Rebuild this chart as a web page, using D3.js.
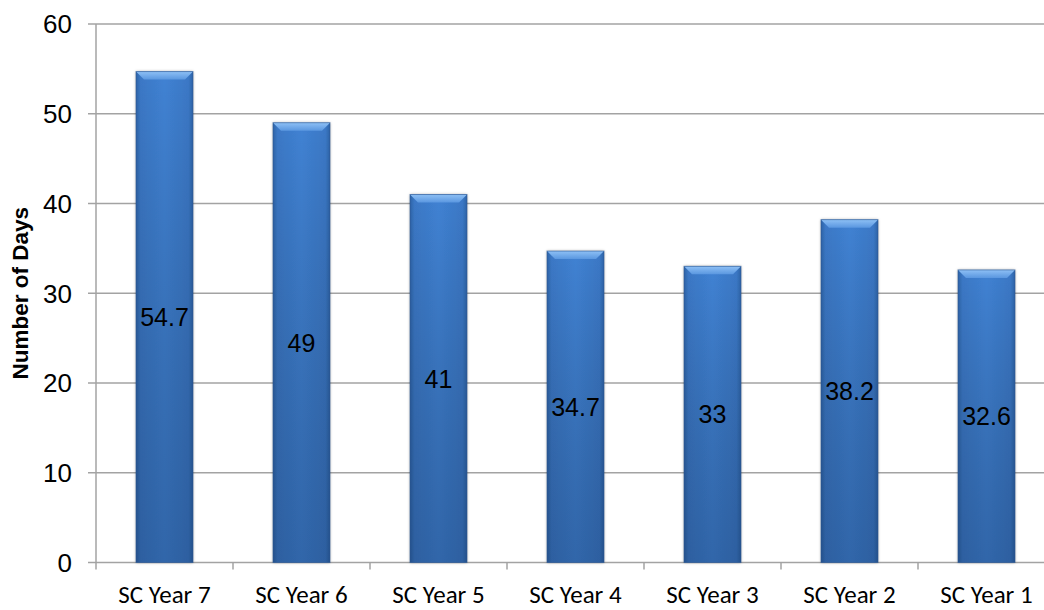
<!DOCTYPE html>
<html>
<head>
<meta charset="utf-8">
<script src="https://cdn.jsdelivr.net/npm/d3@7"></script>
<style>
  body { margin: 0; background: #fff; }
  svg { display: block; }
</style>
</head>
<body>
<script>
// chart data
var categories = ["SC Year 7", "SC Year 6", "SC Year 5", "SC Year 4", "SC Year 3", "SC Year 2", "SC Year 1"];
var days = [54.7, 49, 41, 34.7, 33, 38.2, 32.6];
var dayLabels = ["54.7", "49", "41", "34.7", "33", "38.2", "32.6"];
var yTicks = [0, 10, 20, 30, 40, 50, 60];

var W = 1044, H = 610;
var plotLeft = 96, plotRight = 1055, plotTop = 24, plotBottom = 562.5;

var svg = d3.select("body").append("svg")
    .attr("width", W).attr("height", H);

var x = d3.scaleBand().domain(categories).range([plotLeft, plotRight]).paddingInner(0.584).paddingOuter(0.292);
var y = d3.scaleLinear().domain([0, 60]).range([plotBottom, plotTop]);

// gradients for the bars
var defs = svg.append("defs");
var hg = defs.append("linearGradient").attr("id", "barH").attr("x1", 0).attr("x2", 1).attr("y1", 0).attr("y2", 0);
hg.append("stop").attr("offset", "0%").attr("stop-color", "#2f64a8");
hg.append("stop").attr("offset", "8%").attr("stop-color", "#3b78c6");
hg.append("stop").attr("offset", "50%").attr("stop-color", "#4082d3");
hg.append("stop").attr("offset", "92%").attr("stop-color", "#3b78c6");
hg.append("stop").attr("offset", "100%").attr("stop-color", "#2f64a8");
var vg = defs.append("linearGradient").attr("id", "barV").attr("x1", 0).attr("x2", 0).attr("y1", 0).attr("y2", 1);
vg.append("stop").attr("offset", "0%").attr("stop-color", "#000").attr("stop-opacity", 0);
vg.append("stop").attr("offset", "100%").attr("stop-color", "#0a1f40").attr("stop-opacity", 0.28);
var tg = defs.append("linearGradient").attr("id", "barTop").attr("x1", 0).attr("x2", 0).attr("y1", 0).attr("y2", 1);
tg.append("stop").attr("offset", "0%").attr("stop-color", "#8ec0f5");
tg.append("stop").attr("offset", "100%").attr("stop-color", "#5a97e0");
var sh = defs.append("filter").attr("id", "shadow").attr("x", "-20%").attr("y", "-5%").attr("width", "140%").attr("height", "110%");
sh.append("feDropShadow").attr("dx", 0).attr("dy", 0).attr("stdDeviation", 1.5)
    .attr("flood-color", "#000").attr("flood-opacity", 0.35);

// gridlines
svg.append("g").selectAll("line").data(yTicks).enter().append("line")
    .attr("x1", 88).attr("x2", W)
    .attr("y1", function(d) { return y(d); })
    .attr("y2", function(d) { return y(d); })
    .attr("stroke", "#a3a3a3").attr("stroke-width", 1.5);

// y axis line
svg.append("line")
    .attr("x1", plotLeft).attr("x2", plotLeft).attr("y1", plotTop).attr("y2", plotBottom)
    .attr("stroke", "#a3a3a3").attr("stroke-width", 1.5);

// x tick marks at category boundaries
var step = x.step();
svg.append("g").selectAll("line").data(d3.range(categories.length + 1)).enter().append("line")
    .attr("x1", function(i) { return plotLeft + i * step; })
    .attr("x2", function(i) { return plotLeft + i * step; })
    .attr("y1", plotBottom).attr("y2", plotBottom + 7)
    .attr("stroke", "#a3a3a3").attr("stroke-width", 1.5);

// y tick labels
svg.append("g").selectAll("text").data(yTicks).enter().append("text")
    .attr("x", 72)
    .attr("y", function(d) { return y(d); })
    .attr("dy", "0.36em")
    .attr("text-anchor", "end")
    .style("font-family", "Liberation Sans, Arial, sans-serif")
    .style("font-size", "26px")
    .attr("fill", "#000")
    .text(function(d) { return d; });

// y axis title
svg.append("text")
    .attr("transform", "translate(28," + ((plotTop + plotBottom) / 2) + ") rotate(-90)")
    .attr("text-anchor", "middle")
    .style("font-family", "Liberation Sans, Arial, sans-serif")
    .style("font-size", "22.5px")
    .style("font-weight", "bold")
    .text("Number of Days");

// x labels
svg.append("g").selectAll("text").data(categories).enter().append("text")
    .attr("x", function(d) { return x(d) + x.bandwidth() / 2; })
    .attr("y", 603)
    .attr("text-anchor", "middle")
    .style("font-family", "Carlito, Lato, sans-serif")
    .style("font-size", "25px")
    .attr("fill", "#000")
    .text(function(d) { return d; });

// bars
var bars = svg.append("g").selectAll("g").data(days).enter().append("g");
var bw = x.bandwidth();

bars.append("rect")
    .attr("x", function(d, i) { return x(categories[i]); })
    .attr("y", function(d) { return y(d); })
    .attr("width", bw)
    .attr("height", function(d) { return plotBottom - y(d); })
    .attr("fill", "url(#barH)")
    .attr("filter", "url(#shadow)");

bars.append("rect")
    .attr("x", function(d, i) { return x(categories[i]); })
    .attr("y", function(d) { return y(d); })
    .attr("width", bw)
    .attr("height", function(d) { return plotBottom - y(d); })
    .attr("fill", "url(#barV)");

// top bevel
bars.append("path")
    .attr("d", function(d, i) {
      var x0 = x(categories[i]), x1 = x0 + bw, y0 = y(d), b = 8;
      return "M" + x0 + "," + y0 + "L" + x1 + "," + y0 + "L" + (x1 - b) + "," + (y0 + b) +
             "L" + (x0 + b) + "," + (y0 + b) + "Z";
    })
    .attr("fill", "url(#barTop)");

// bar edge
bars.append("rect")
    .attr("x", function(d, i) { return x(categories[i]); })
    .attr("y", function(d) { return y(d); })
    .attr("width", bw)
    .attr("height", function(d) { return plotBottom - y(d); })
    .attr("fill", "none")
    .attr("stroke", "#2a5792").attr("stroke-width", 1).attr("stroke-opacity", 0.6);

// value labels in the middle of each bar
bars.append("text")
    .attr("x", function(d, i) { return x(categories[i]) + bw / 2; })
    .attr("y", function(d) { return (y(d) + plotBottom) / 2; })
    .attr("dy", "0.36em")
    .attr("text-anchor", "middle")
    .style("font-family", "Liberation Sans, Arial, sans-serif")
    .style("font-size", "25px")
    .attr("fill", "#000")
    .text(function(d, i) { return dayLabels[i]; });
</script>
</body>
</html>
